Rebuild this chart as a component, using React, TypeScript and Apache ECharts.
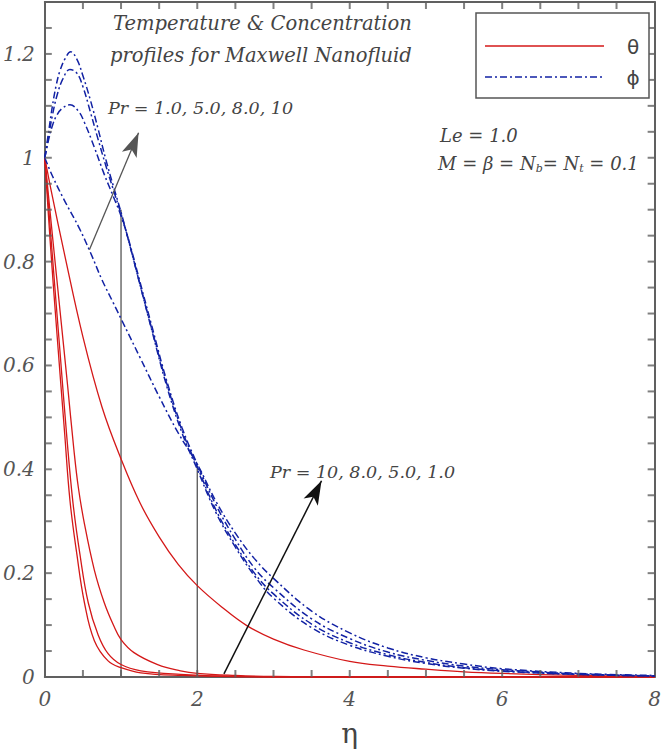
import React, { useEffect, useRef } from 'react';
import * as echarts from 'echarts';

// Pr values of the four profiles
const prLabels = ['1.0', '5.0', '8.0', '10'];

// Temperature profiles θ(η)
const thetaPr1 = [[0, 1], [0.1, 0.925], [0.25, 0.82], [0.5, 0.655], [0.75, 0.52], [1, 0.42], [1.25, 0.335], [1.5, 0.27], [1.75, 0.217], [2, 0.176], [2.32, 0.135], [2.65, 0.099], [3, 0.073], [3.4, 0.052], [4, 0.03], [4.5, 0.021], [5, 0.015], [5.5, 0.01], [6, 0.007], [7, 0.003], [8, 0.001]];
const thetaPr5 = [[0, 1], [0.1, 0.85], [0.2, 0.705], [0.3, 0.56], [0.38, 0.44], [0.44, 0.365], [0.52, 0.295], [0.65, 0.206], [0.78, 0.143], [0.9, 0.1], [1, 0.072], [1.17, 0.047], [1.48, 0.024], [1.78, 0.012], [2, 0.007], [2.5, 0.003], [3, 0.001], [4, 0], [6, 0], [8, 0]];
const thetaPr8 = [[0, 1], [0.1, 0.81], [0.2, 0.625], [0.29, 0.46], [0.37, 0.335], [0.46, 0.237], [0.57, 0.143], [0.7, 0.081], [0.83, 0.045], [1, 0.024], [1.26, 0.012], [1.78, 0.005], [2.5, 0.001], [3, 0], [4, 0], [6, 0], [8, 0]];
const thetaPr10 = [[0, 1], [0.07, 0.84], [0.16, 0.66], [0.26, 0.47], [0.33, 0.34], [0.42, 0.237], [0.52, 0.143], [0.65, 0.07], [0.83, 0.031], [1, 0.018], [1.26, 0.008], [1.8, 0.003], [2.5, 0.001], [3, 0], [4, 0], [6, 0], [8, 0]];

// Concentration profiles φ(η)
const phiPr1 = [[0, 1], [0.1, 0.965], [0.25, 0.92], [0.45, 0.865], [0.6, 0.817], [0.75, 0.765], [0.9, 0.72], [1, 0.69], [1.25, 0.615], [1.5, 0.54], [1.75, 0.47], [2, 0.41], [2.25, 0.337], [2.5, 0.277], [2.75, 0.228], [3, 0.19], [3.5, 0.127], [4, 0.085], [4.5, 0.056], [5, 0.037], [5.5, 0.025], [6, 0.016], [7, 0.007], [8, 0.003]];
const phiPr5 = [[0, 1], [0.05, 1.035], [0.1, 1.062], [0.15, 1.08], [0.22, 1.094], [0.33, 1.102], [0.44, 1.09], [0.52, 1.068], [0.65, 1.02], [0.78, 0.968], [0.9, 0.925], [1, 0.888], [1.1, 0.842], [1.25, 0.76], [1.4, 0.678], [1.6, 0.57], [1.8, 0.48], [2, 0.41], [2.25, 0.33], [2.5, 0.265], [2.75, 0.21], [3, 0.172], [3.5, 0.112], [4, 0.074], [4.5, 0.048], [5, 0.032], [5.5, 0.021], [6, 0.014], [7, 0.006], [8, 0.002]];
const phiPr8 = [[0, 1], [0.05, 1.042], [0.1, 1.082], [0.16, 1.12], [0.24, 1.153], [0.33, 1.17], [0.42, 1.163], [0.5, 1.137], [0.6, 1.087], [0.7, 1.035], [0.8, 0.985], [0.9, 0.938], [1, 0.892], [1.1, 0.84], [1.25, 0.755], [1.4, 0.672], [1.6, 0.565], [1.8, 0.475], [2, 0.405], [2.25, 0.32], [2.5, 0.255], [2.75, 0.2], [3, 0.16], [3.5, 0.102], [4, 0.066], [4.5, 0.043], [5, 0.028], [5.5, 0.018], [6, 0.012], [7, 0.005], [8, 0.002]];
const phiPr10 = [[0, 1], [0.05, 1.05], [0.1, 1.1], [0.15, 1.14], [0.2, 1.168], [0.27, 1.192], [0.34, 1.204], [0.42, 1.19], [0.5, 1.158], [0.6, 1.11], [0.7, 1.055], [0.8, 0.997], [0.9, 0.945], [1, 0.895], [1.1, 0.84], [1.25, 0.755], [1.4, 0.67], [1.6, 0.56], [1.8, 0.47], [2, 0.4], [2.25, 0.315], [2.5, 0.25], [2.75, 0.195], [3, 0.152], [3.5, 0.095], [4, 0.061], [4.5, 0.04], [5, 0.026], [5.5, 0.017], [6, 0.011], [7, 0.005], [8, 0.002]];

// vertical drop lines
const dropEta = [1, 2];
const dropTop = [0.9, 0.407];

// arrows: [start, end] in data coords
const arrowUp = [[0.585, 0.823], [1.23, 1.048]];
const arrowDown = [[2.35, 0.006], [3.63, 0.378]];

// tick labels and tick positions (major + minor)
const xTickLabels = [0, 2, 4, 6, 8];
const yTickLabels = [0, 0.2, 0.4, 0.6, 0.8, 1, 1.2];
const xTickPos = [0.5, 1, 1.5, 2, 2.5, 3, 3.5, 4, 4.5, 5, 5.5, 6, 6.5, 7, 7.5];
const yTickPos = [0.05, 0.1, 0.15, 0.2, 0.25, 0.3, 0.35, 0.4, 0.45, 0.5, 0.55, 0.6, 0.65, 0.7, 0.75, 0.8, 0.85, 0.9, 0.95, 1, 1.05, 1.1, 1.15, 1.2, 1.25];
const X_MIN = 0, X_MAX = 8, Y_MIN = 0, Y_MAX = 1.3;

const RED = '#d41818';
const BLUE = '#1222a4';
const AXIS = '#606060';
const DASHDOT = [7, 3, 2, 3];
const SERIF = 'DejaVu Serif';

export default function App() {
  const ref = useRef<HTMLDivElement>(null);
  const errRef = useRef<HTMLPreElement>(null);
  useEffect(() => {
    const report = (e: any) => {
      if (errRef.current) errRef.current.textContent += String((e && (e.stack || e.message)) || e).slice(0, 400) + '\n';
    };
    const onErr = (ev: any) => report(ev.error || ev.message);
    window.addEventListener('error', onErr);
    const chart = echarts.init(ref.current!, null, { renderer: 'svg' });
    const mkAxis = (extra: any) => ({
      type: 'value',
      axisLine: { show: true, onZero: false, lineStyle: { color: AXIS, width: 2 } },
      axisTick: { show: false },
      minorTick: { show: false },
      splitLine: { show: false },
      minorSplitLine: { show: false },
      ...extra,
    });
    const labelStyle = { fontFamily: SERIF, fontStyle: 'italic', fontSize: 20, color: '#555' };
    const thetas = [thetaPr1, thetaPr5, thetaPr8, thetaPr10];
    const phis = [phiPr1, phiPr5, phiPr8, phiPr10];
    const series: any[] = [];
    // inward tick marks on all four sides (drawn first)
    const tickSeries = (data: number[][], size: number[], offset: number[]) => ({
      type: 'scatter', data, symbol: 'rect', symbolSize: size, symbolOffset: offset,
      itemStyle: { color: AXIS }, clip: false, z: 10,
    });
    series.push(tickSeries(xTickPos.map((v) => [v, Y_MIN]), [2, 7], [0, -3.5]));
    series.push(tickSeries(xTickPos.map((v) => [v, Y_MAX]), [2, 7], [0, 3.5]));
    series.push(tickSeries(yTickPos.map((v) => [X_MIN, v]), [7, 2], [3.5, 0]));
    series.push(tickSeries(yTickPos.map((v) => [X_MAX, v]), [7, 2], [-3.5, 0]));
    thetas.forEach((d, i) => series.push({
      name: 'θ Pr=' + prLabels[i], type: 'line', data: d, symbol: 'none', smooth: 0.4,
      lineStyle: { color: RED, width: 1.3 }, z: 3,
    }));
    phis.forEach((d, i) => series.push({
      name: 'φ Pr=' + prLabels[i], type: 'line', data: d, symbol: 'none', smooth: 0.4,
      lineStyle: { color: BLUE, width: 1.5, type: DASHDOT }, z: 4,
    }));
    dropEta.forEach((e, i) => series.push({
      name: 'drop' + i, type: 'line', data: [[e, 0], [e, dropTop[i]]], symbol: 'none',
      lineStyle: { color: '#555', width: 1.3 }, z: 2,
    }));
    series.push({
      name: 'arrows', type: 'line', data: [[arrowUp[0][0], arrowUp[0][1]]], symbol: 'none', lineStyle: { opacity: 0 },
      markLine: {
        silent: true, animation: false, symbol: ['none', 'arrow'], symbolSize: [12, 24],
        label: { show: false },
        data: [
          [
            { coord: arrowUp[0], lineStyle: { color: '#555', width: 1.3, type: 'solid' }, itemStyle: { color: '#555' } },
            { coord: arrowUp[1], lineStyle: { color: '#555', width: 1.3, type: 'solid' }, itemStyle: { color: '#555' } },
          ],
          [
            { coord: arrowDown[0], lineStyle: { color: '#111', width: 1.5, type: 'solid' }, itemStyle: { color: '#111' } },
            { coord: arrowDown[1], lineStyle: { color: '#111', width: 1.5, type: 'solid' }, itemStyle: { color: '#111' } },
          ],
        ],
      },
    });

    const txt = (x: number, y: number, text: string, size: number, extra: any = {}) => ({
      type: 'text', x, y, silent: true, z: 20,
      style: { text, fontFamily: SERIF, fontStyle: 'italic', fontSize: size, fill: '#444', verticalAlign: 'middle', ...extra },
    });

    const option: any = {
      animation: false,
      grid: { left: 43, right: 6, top: 2, bottom: 59, containLabel: false },
      xAxis: [
        mkAxis({
          position: 'bottom', min: X_MIN, max: X_MAX, interval: 2,
          axisLabel: { ...labelStyle, margin: 12, formatter: (v: number) => (xTickLabels.includes(Math.round(v * 100) / 100) ? String(Math.round(v * 100) / 100) : '') },
          name: 'η', nameLocation: 'middle', nameGap: 42,
          nameTextStyle: { fontFamily: SERIF, fontSize: 28, color: '#444' },
        }),
        mkAxis({ position: 'top', min: X_MIN, max: X_MAX, interval: 2, axisLabel: { show: false } }),
      ],
      yAxis: [
        mkAxis({
          position: 'left', min: Y_MIN, max: Y_MAX, interval: 0.2,
          axisLabel: { ...labelStyle, margin: 10, formatter: (v: number) => { const r = Math.round(v * 100) / 100; return yTickLabels.includes(r) ? String(r) : ''; } },
        }),
        mkAxis({ position: 'right', min: Y_MIN, max: Y_MAX, interval: 0.2, axisLabel: { show: false } }),
      ],
      series,
      graphic: [
        txt(113, 23, 'Temperature & Concentration', 19.5),
        txt(110, 55, 'profiles for Maxwell Nanofluid', 19.5),
        txt(108, 108, 'Pr = 1.0, 5.0, 8.0, 10', 17.5),
        txt(270, 472, 'Pr = 10, 8.0, 5.0, 1.0', 17.5),
        txt(440, 135, 'Le = 1.0', 18),
        {
          type: 'text', x: 438, y: 163, silent: true, z: 20,
          style: {
            text: '{n|M = β = N}{s|b}{n|= N}{s|t}{n| = 0.1}',
            fontFamily: SERIF, fontStyle: 'italic', fontSize: 18, fill: '#444', verticalAlign: 'middle',
            rich: {
              n: { fontFamily: SERIF, fontStyle: 'italic', fontSize: 18, fill: '#444', lineHeight: 22 },
              s: { fontFamily: SERIF, fontStyle: 'italic', fontSize: 11, fill: '#444', lineHeight: 10, verticalAlign: 'bottom' },
            },
          },
        },
        {
          type: 'rect', shape: { x: 476, y: 13, width: 173, height: 85 }, silent: true, z: 19,
          style: { fill: '#fff', stroke: '#555', lineWidth: 1.5 },
        },
        {
          type: 'line', shape: { x1: 485, y1: 46, x2: 604, y2: 46 }, silent: true, z: 20,
          style: { stroke: RED, lineWidth: 1.5 },
        },
        {
          type: 'line', shape: { x1: 485, y1: 77, x2: 604, y2: 77 }, silent: true, z: 20,
          style: { stroke: BLUE, lineWidth: 1.5, lineDash: DASHDOT },
        },
        txt(633, 47, 'θ', 20, { fontStyle: 'normal', fontFamily: 'DejaVu Sans', textAlign: 'center' }),
        txt(633, 78, 'ϕ', 20, { fontStyle: 'normal', fontFamily: 'DejaVu Sans', textAlign: 'center' }),
      ],
    };
    try {
      chart.setOption(option);
    } catch (e) {
      report(e);
    }
    return () => {
      window.removeEventListener('error', onErr);
      chart.dispose();
    };
  }, []);
  return (
    <>
      <div ref={ref} style={{ position: 'absolute', left: 0, top: 0, width: 664, height: 752 }} />
      <pre ref={errRef} style={{ position: 'absolute', left: 60, top: 300, margin: 0, fontSize: 10, color: '#c00', whiteSpace: 'pre-wrap', width: 580, pointerEvents: 'none' }} />
    </>
  );
}
